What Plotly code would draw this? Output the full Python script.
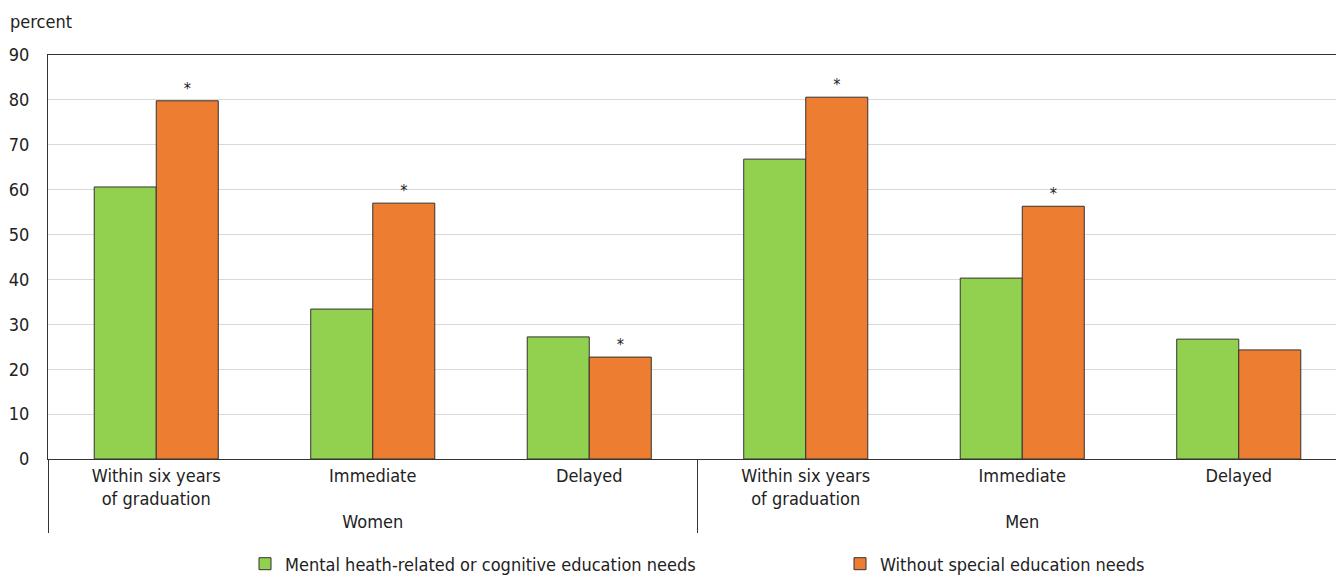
import plotly.graph_objects as go

# Data
groups = ["Women", "Women", "Women", "Men", "Men", "Men"]
outcomes = ["Within six years<br>of graduation", "Immediate", "Delayed",
            "Within six years<br>of graduation", "Immediate", "Delayed"]
mental_needs = [60.6, 33.4, 27.2, 66.8, 40.3, 26.7]
no_special_needs = [79.8, 57.0, 22.7, 80.6, 56.3, 24.3]
significance = ["*", "*", "*", "*", "*", ""]
y_ticks = [0, 10, 20, 30, 40, 50, 60, 70, 80, 90]

FONT = "DejaVu Sans Condensed, Liberation Sans Narrow, sans-serif"
FS = 18
GREEN = "#92D050"
ORANGE = "#ED7D31"
INK = "#222222"

x = [groups, outcomes]

fig = go.Figure()
fig.add_trace(go.Bar(
    x=x, y=mental_needs,
    name="Mental heath-related or cognitive education needs",
    marker=dict(color=GREEN, line=dict(color="#333333", width=1)),
    legend="legend",
))
fig.add_trace(go.Bar(
    x=x, y=no_special_needs,
    name="Without special education needs",
    marker=dict(color=ORANGE, line=dict(color="#333333", width=1)),
    text=significance, textposition="outside", cliponaxis=False,
    textfont=dict(family=FONT, size=16, color=INK),
    legend="legend2",
))

W, H = 1336, 577
L, T, B = 48, 55, 118
plot_w = W - L
plot_h = H - T - B
cat_w = 216.5
x_max = -0.5 + plot_w / cat_w

legend_style = dict(
    orientation="h", xanchor="left", yanchor="middle",
    y=-105 / plot_h, itemwidth=30,
    bgcolor="rgba(0,0,0,0)", borderwidth=0,
    font=dict(family=FONT, size=FS, color=INK),
)

fig.update_layout(
    width=W, height=H,
    margin=dict(l=L, r=0, t=T, b=B, autoexpand=False),
    paper_bgcolor="white", plot_bgcolor="white",
    font=dict(family=FONT, size=FS, color=INK),
    barmode="group", bargap=0.427, bargroupgap=0,
    showlegend=True,
    legend=dict(x=(245 - L) / plot_w, **legend_style),
    legend2=dict(x=(840 - L) / plot_w, **legend_style),
    xaxis=dict(
        type="multicategory",
        range=[-0.5, x_max],
        showline=True, linecolor="#333333", linewidth=1, mirror=True,
        showdividers=True, dividercolor="#333333", dividerwidth=1,
        tickfont=dict(family=FONT, size=FS, color=INK),
        showgrid=False,
        ticks="outside", ticklen=8, tickcolor="rgba(0,0,0,0)",
    ),
    yaxis=dict(
        range=[0, 90],
        tickvals=y_ticks,
        showgrid=True, gridcolor="#d9d9d9", gridwidth=1,
        showline=True, linecolor="#333333", linewidth=1, mirror=False,
        zeroline=False,
        ticks="", ticklabelstandoff=14,
        tickfont=dict(family=FONT, size=FS, color=INK),
    ),
    annotations=[dict(
        text="percent", xref="paper", yref="paper",
        x=-40 / plot_w, y=1 + 33 / plot_h,
        xanchor="left", yanchor="middle", showarrow=False,
        font=dict(family=FONT, size=FS, color=INK),
    )],
)

fig.write_html("out.html")
